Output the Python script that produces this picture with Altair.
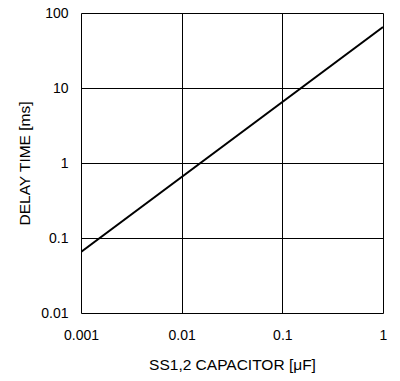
import altair as alt
import pandas as pd

cap_uF = [0.001, 1.0]
delay_ms = [0.065, 65.0]
x_ticks = [0.001, 0.01, 0.1, 1]
y_ticks = [0.01, 0.1, 1, 10, 100]

df = pd.DataFrame({"cap": cap_uF, "delay": delay_ms})

FONT = "Liberation Sans"

chart = alt.Chart(df).mark_line(color="black", strokeWidth=2, clip=True).encode(
    x=alt.X("cap:Q",
            scale=alt.Scale(type="log", domain=[0.001, 1], nice=False),
            axis=alt.Axis(values=x_ticks, title="SS1,2 CAPACITOR [μF]",
                          format="~g", labelExpr="datum.value < 0.01 ? '0.001' : datum.label",
                          grid=True, gridColor="black", gridOpacity=1, gridWidth=1,
                          tickSize=0, domain=False,
                          labelPadding=15, titlePadding=15,
                          labelFont=FONT, titleFont=FONT, labelFontSize=14, titleFontSize=15.5,
                          labelColor="black", titleColor="black", titleFontWeight="normal",
                          labelFlush=False)),
    y=alt.Y("delay:Q",
            scale=alt.Scale(type="log", domain=[0.01, 100], nice=False),
            axis=alt.Axis(values=y_ticks, title="DELAY TIME [ms]", format="~g",
                          grid=True, gridColor="black", gridOpacity=1, gridWidth=1,
                          tickSize=0, domain=False,
                          labelPadding=13, titlePadding=8,
                          labelFont=FONT, titleFont=FONT, labelFontSize=14, titleFontSize=15.5,
                          labelColor="black", titleColor="black", titleFontWeight="normal",
                          labelFlush=False)),
).properties(
    width=302, height=300,
    autosize=alt.AutoSizeParams(type="none"),
    padding={"left": 81, "top": 13, "right": 17, "bottom": 68},
).configure_view(
    stroke="black", strokeWidth=3
).configure(background="white")

chart.save("out.html", embed_options={"renderer": "svg", "actions": False})
